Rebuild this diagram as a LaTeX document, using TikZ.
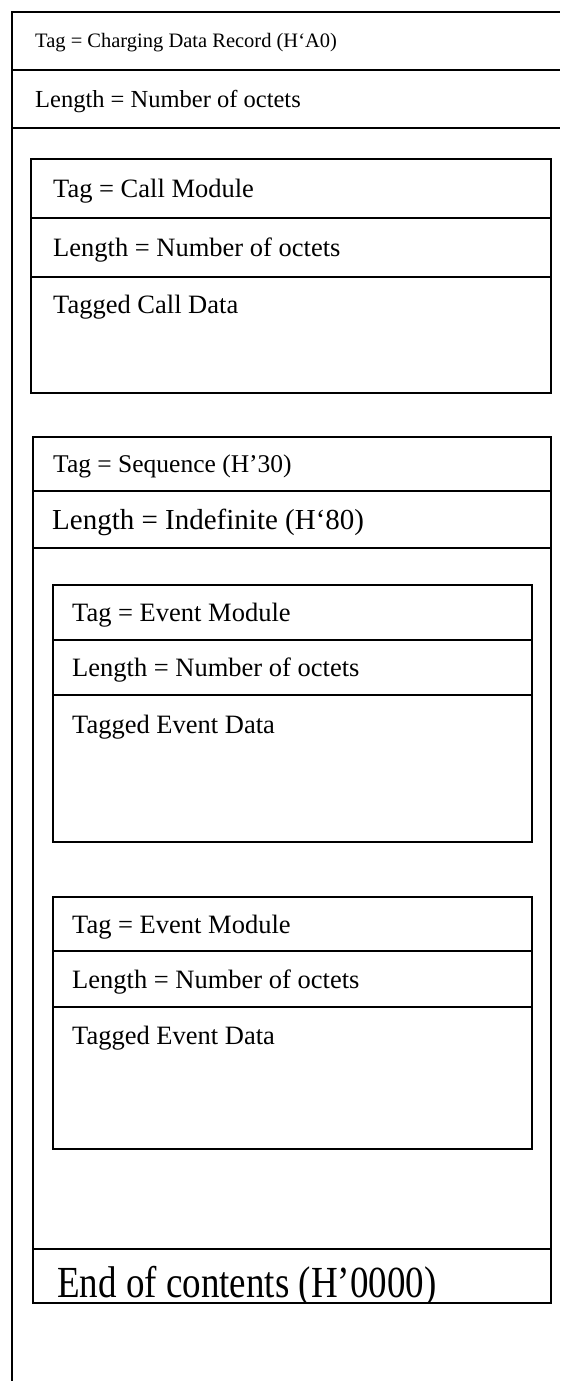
\documentclass[tikz,border=0pt]{standalone}
\usepackage{fontspec}
\setmainfont{Liberation Serif}
\begin{document}
\begin{tikzpicture}[x=1pt,y=-1pt,
  frame/.style={draw=black,line width=1.4pt},
  rowline/.style={draw=black,line width=1.4pt},
  smalllbl/.style={anchor=base west,inner sep=0pt,font=\fontsize{20.5}{24}\selectfont},
  lbl/.style={anchor=base west,inner sep=0pt,font=\fontsize{24.5}{28}\selectfont},
  seqlbl/.style={anchor=base west,inner sep=0pt,font=\fontsize{25.5}{29}\selectfont},
  evlbl/.style={anchor=base west,inner sep=0pt,font=\fontsize{26.5}{30}\selectfont},
  biglbl/.style={anchor=base west,inner sep=0pt,font=\fontsize{29}{33}\selectfont},
  hugelbl/.style={anchor=base west,inner sep=0pt,yscale=1.2,font=\fontsize{37}{40}\selectfont}]
\useasboundingbox (0,0) rectangle (560,1381);
\fill[white] (0,0) rectangle (560,1381);
% outer record (cropped at right and bottom)
\draw[rowline] (12,1381) -- (12,12) -- (560,12);
\draw[rowline] (12,70) -- (560,70);
\draw[rowline] (12,128) -- (560,128);
\node[smalllbl] (tagcdr) at (35,48) {Tag = Charging Data Record (H‘A0)};
\node[lbl] (lencdr) at (35,107) {Length = Number of octets};
% call module
\draw[frame] (31,159) rectangle (551,393);
\draw[rowline] (31,218) -- (551,218);
\draw[rowline] (31,277) -- (551,277);
\node[evlbl] (tagcall) at (53,197) {Tag = Call Module};
\node[evlbl] (lencall) at (53,256) {Length = Number of octets};
\node[evlbl] (datacall) at (53,313) {Tagged Call Data};
% sequence
\draw[frame] (33,437) rectangle (551,1303);
\draw[rowline] (33,491) -- (551,491);
\draw[rowline] (33,548) -- (551,548);
\draw[rowline] (33,1249) -- (551,1249);
\node[seqlbl] (tagseq) at (53,472) {Tag = Sequence (H’30)};
\node[biglbl] (lenseq) at (52,529) {Length = Indefinite (H‘80)};
% event module 1
\draw[frame] (53,585) rectangle (532,842);
\draw[rowline] (53,640) -- (532,640);
\draw[rowline] (53,695) -- (532,695);
\node[evlbl] (tagev1) at (72,621) {Tag = Event Module};
\node[evlbl] (lenev1) at (72,676) {Length = Number of octets};
\node[evlbl] (dataev1) at (72,733) {Tagged Event Data};
% event module 2
\draw[frame] (53,897) rectangle (532,1149);
\draw[rowline] (53,951) -- (532,951);
\draw[rowline] (53,1007) -- (532,1007);
\node[evlbl] (tagev2) at (72,933) {Tag = Event Module};
\node[evlbl] (lenev2) at (72,988) {Length = Number of octets};
\node[evlbl] (dataev2) at (72,1044) {Tagged Event Data};
% end of contents (text clipped by the bottom line)
\begin{scope}
\clip (33,1249) rectangle (551,1302);
\node[hugelbl] (eoc) at (57,1297) {End of contents (H’0000)};
\end{scope}
\draw[rowline] (33,1303) -- (551,1303);
\end{tikzpicture}
\end{document}
